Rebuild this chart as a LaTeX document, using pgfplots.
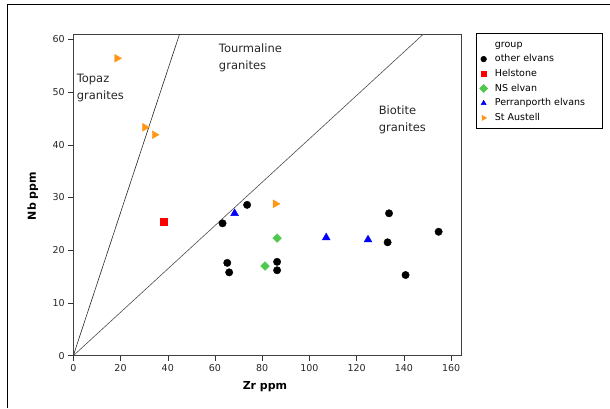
\documentclass[border=0pt]{standalone}
\usepackage{fontspec}
\setmainfont{DejaVu Sans}
\usepackage{pgfplots}
\pgfplotsset{compat=1.18}
\definecolor{cgreen}{RGB}{80,200,80}
\definecolor{corange}{RGB}{255,150,20}
\definecolor{cred}{RGB}{250,0,0}
\definecolor{cblue}{RGB}{0,0,250}
\begin{document}
\begin{tikzpicture}[x=1pt,y=1pt]
\path[use as bounding box] (0,0) rectangle (610,408);
\draw[black, line width=1pt] (7,0) -- (7,403) -- (610,403);
\begin{axis}[
  at={(73.3pt,52.3pt)}, anchor=south west,
  scale only axis, width=388pt, height=321.7pt,
  xmin=0, xmax=164.3, ymin=0, ymax=61,
  xtick={0,20,...,160}, ytick={0,10,...,60},
  tick align=outside, tick pos=left,
  major tick length=5pt,
  tick style={black!80, line width=0.5pt},
  axis line style={black!75, line width=0.6pt},
  /pgf/number format/assume math mode=true,
  tick label style={font=\fontsize{9.5}{11}\selectfont, text=black!85},
  xticklabel style={inner xsep=0pt},
  xlabel={\textbf{Zr ppm}}, ylabel={\textbf{Nb ppm}},
  label style={font=\fontsize{11}{13}\selectfont},
  xlabel style={at={(axis description cs:0.494,-0.097)}, anchor=center},
  ylabel style={at={(axis description cs:-0.104,0.496)}, anchor=center, rotate=0},
  legend style={at={(1.038,1.002)}, anchor=north west,
    draw=black, line width=0.6pt, inner xsep=3pt, inner ysep=4pt,
    font=\fontsize{9.5}{11}\selectfont, row sep=1.2pt, column sep=5pt,
    nodes={inner ysep=1.5pt, inner xsep=2pt, text height=8pt, text depth=2.5pt}},
  legend cell align=left,
  legend image code/.code={\path (-4pt,0pt) (4pt,0pt); \draw[#1, mark size=2.8pt] plot coordinates {(0pt,0pt)};},
]
\addlegendimage{empty legend}
\addlegendentry{group}
% other elvans
\addplot[only marks, mark=*, mark size=3.7pt, draw=black, fill=black] coordinates {
(73.6,28.6) (63.2,25.1) (133.7,27.0) (133.1,21.5) (154.7,23.5)
(65.2,17.6) (66.0,15.8) (86.3,17.8) (86.3,16.2) (140.7,15.3)
};
\addlegendentry{other elvans}
% Helstone
\addplot[only marks, mark=square*, mark size=3.5pt, draw=cred, fill=cred] coordinates {
(38.3,25.5)
};
\addlegendentry{Helstone}
% NS elvan
\addplot[only marks, mark=square*, mark size=3.1pt, mark options={rotate=45}, draw=cgreen, fill=cgreen] coordinates {
(86.3,22.3) (81.2,17.0)
};
\addlegendentry{NS elvan}
% Perranporth elvans
\addplot[only marks, mark=triangle*, mark size=4.5pt, draw=cblue, fill=cblue] coordinates {
(68.3,27.0) (107.1,22.4) (124.8,22.0)
};
\addlegendentry{\makebox[102pt][l]{Perranporth elvans}}
% St Austell
\addplot[only marks, mark=triangle*, mark size=4.5pt, mark options={rotate=-90}, draw=corange, fill=corange] coordinates {
(18.5,56.4) (30.3,43.3) (34.4,41.9) (85.6,28.8)
};
\addlegendentry{St Austell}
\addplot[black!85, line width=0.6pt, no marks, forget plot] coordinates {(0,0) (45,61)};
\addplot[black!70, line width=0.6pt, no marks, forget plot] coordinates {(0,0) (148.3,61)};
\node[anchor=west, align=left, font=\fontsize{11.5}{17.5}\selectfont, text=black!85, inner sep=0pt] at (axis cs:1.4,50.8) {Topaz\\granites};
\node[anchor=west, align=left, font=\fontsize{11.5}{17.5}\selectfont, text=black!85, inner sep=0pt] at (axis cs:61.6,56.45) {Tourmaline\\granites};
\node[anchor=west, align=left, font=\fontsize{11.5}{17.5}\selectfont, text=black!85, inner sep=0pt] at (axis cs:129.3,44.75) {Biotite\\granites};
\end{axis}
\end{tikzpicture}
\end{document}
